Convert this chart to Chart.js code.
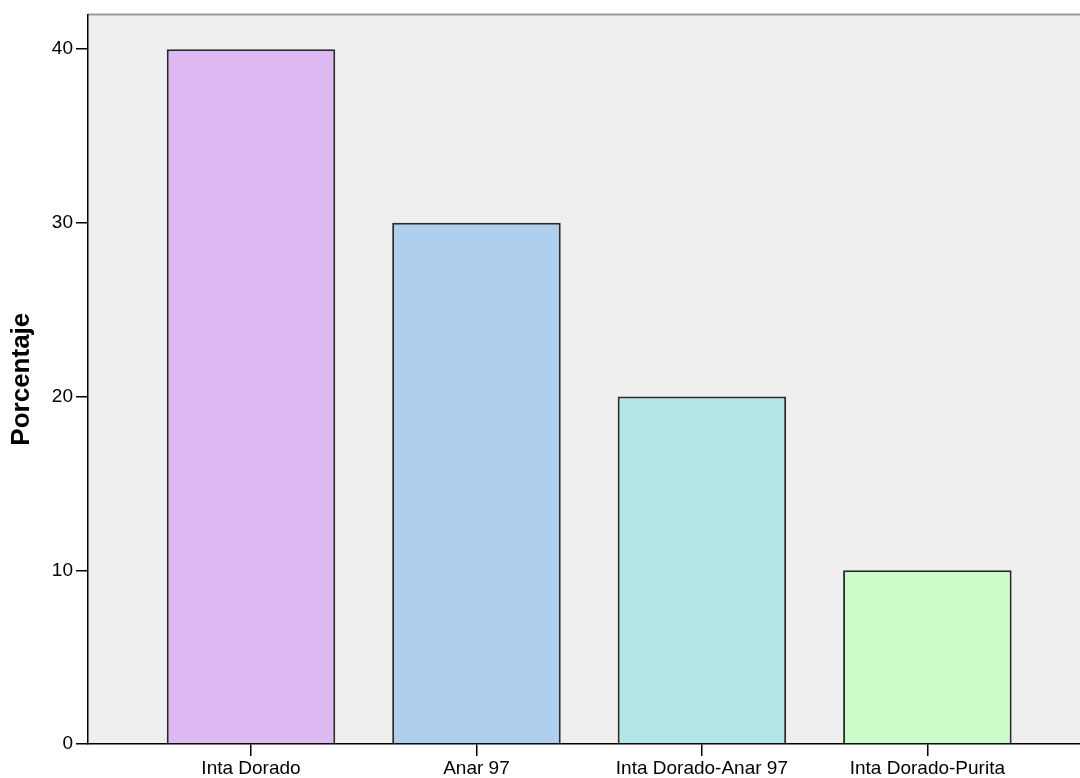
<!DOCTYPE html>
<html>
<head>
<meta charset="utf-8">
<script src="https://cdn.jsdelivr.net/npm/chart.js@4.4.0/dist/chart.umd.min.js"></script>
<style>
html,body{margin:0;padding:0;background:#fff;}
#wrap{width:1080px;height:778px;position:relative;}
</style>
</head>
<body>
<div id="wrap"><canvas id="c"></canvas></div>
<script>
const categories = ["Inta Dorado", "Anar 97", "Inta Dorado-Anar 97", "Inta Dorado-Purita"];
const percentages = [40, 30, 20, 10];
const yTicks = [0, 10, 20, 30, 40];
const barColors = ["#dfb9f3", "#aecfee", "#b4e6e7", "#ccfecb"];

const plotBg = {
  id: 'plotBg',
  beforeDraw(chart) {
    const {ctx, chartArea: a} = chart;
    ctx.save();
    ctx.fillStyle = '#fff';
    ctx.fillRect(0, 0, chart.width, chart.height);
    ctx.fillStyle = '#efefef';
    ctx.fillRect(a.left, a.top, a.right - a.left, a.bottom - a.top);
    ctx.strokeStyle = '#999';
    ctx.lineWidth = 2;
    ctx.beginPath();
    ctx.moveTo(a.left, a.top);
    ctx.lineTo(a.right, a.top);
    ctx.stroke();
    ctx.restore();
  }
};

new Chart(document.getElementById('c'), {
  type: 'bar',
  data: {
    datasets: [{
      data: percentages.map((v, i) => ({x: i, y: v})),
      backgroundColor: barColors,
      borderColor: '#2a2a2a',
      borderWidth: 2,
      barPercentage: 0.7475,
      categoryPercentage: 1
    }]
  },
  options: {
    responsive: true,
    maintainAspectRatio: false,
    animation: false,
    devicePixelRatio: 1,
    layout: {padding: {top: 14, right: 0, left: 0, bottom: 0}},
    plugins: {legend: {display: false}, tooltip: {enabled: false}},
    scales: {
      x: {
        type: 'linear',
        offset: false,
        min: -0.723,
        max: 3.677,
        afterBuildTicks(s) { s.ticks = categories.map((c, i) => ({value: i})); },
        afterFit(s) { s.height = 34; },
        ticks: {
          callback: (v) => categories[v] !== undefined ? categories[v] : '',
          color: '#000',
          font: {family: 'Liberation Sans, Arial', size: 19},
          padding: 1,
          maxRotation: 0,
          autoSkip: false
        },
        grid: {offset: false, drawOnChartArea: false, drawTicks: true, tickLength: 12, color: '#000', lineWidth: 1.5},
        border: {color: '#000', width: 1.5}
      },
      y: {
        min: 0,
        max: 42,
        afterBuildTicks(s) { s.ticks = yTicks.map(v => ({value: v})); },
        afterFit(s) { s.width = 88; },
        ticks: {
          color: '#000',
          font: {family: 'Liberation Sans, Arial', size: 19},
          padding: 3
        },
        grid: {drawOnChartArea: false, drawTicks: true, tickLength: 12, color: '#000', lineWidth: 1.5},
        border: {color: '#000', width: 1.5},
        title: {
          display: true,
          text: 'Porcentaje',
          color: '#000',
          font: {family: 'Liberation Sans, Arial', size: 26, weight: 'bold'},
          padding: {top: 6, bottom: 0}
        }
      }
    }
  },
  plugins: [plotBg]
});
</script>
</body>
</html>
